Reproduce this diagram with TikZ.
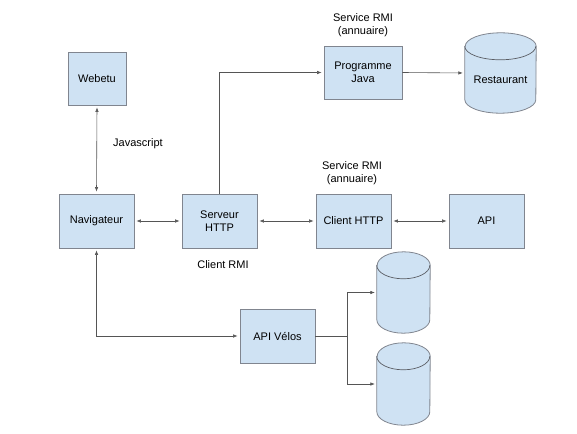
\documentclass[tikz,border=0pt]{standalone}
\usepackage{fontspec}
\setmainfont{Liberation Sans}
\usetikzlibrary{arrows.meta}
\definecolor{boxfill}{HTML}{CFE2F3}
\definecolor{boxline}{HTML}{80858F}
\definecolor{wire}{HTML}{555555}
\newcommand\dbcyl[2]{%
  \path[draw=boxline, fill=boxfill, line width=0.8pt]
    ([yshift=-13.5pt]#1.north west) -- ([yshift=13.5pt]#1.south west)
    arc[start angle=180, end angle=360, x radius=#2, y radius=13.5pt]
    -- ([yshift=-13.5pt]#1.north east)
    arc[start angle=0, end angle=180, x radius=#2, y radius=13.5pt] -- cycle;
  \draw[boxline!70!black, line width=0.7pt] ([yshift=-13.5pt]#1.north west)
    arc[start angle=180, end angle=360, x radius=#2, y radius=13.5pt];
}
\tikzset{
  box/.style={draw=boxline, fill=boxfill, line width=0.8pt, minimum width=75pt,
    minimum height=54pt, inner sep=0pt, align=center, font=\fontsize{11}{13.5}\selectfont},
  cylnode/.style={draw=none, inner sep=0pt, align=center, font=\fontsize{11}{13.5}\selectfont},
  lbl/.style={inner sep=0pt, align=center, font=\fontsize{11}{13.5}\selectfont},
  wirestyle/.style={draw=wire, line width=0.6pt, shorten >=2pt,
    >={Latex[length=4.5pt,width=3.5pt]}},
  wire2/.style={wirestyle, shorten <=2pt},
}
\begin{document}
\begin{tikzpicture}[x=1pt, y=-1pt]
\useasboundingbox (0,0) rectangle (577,433);
% cylinders (invisible named nodes, then drawn shapes)
\node[cylnode, minimum width=71pt, minimum height=80pt] (rest) at (500.5,73) {};
\node[cylnode, minimum width=53pt, minimum height=81pt] (db1) at (403.5,292.5) {};
\node[cylnode, minimum width=53pt, minimum height=82pt] (db2) at (403.5,384) {};
\dbcyl{rest}{35.5pt}
\dbcyl{db1}{26.5pt}
\dbcyl{db2}{26.5pt}
\node[lbl] (resttxt) at (500.5,80) {Restaurant};
% boxes
\node[box, minimum width=58pt, minimum height=53pt] (web) at (97,78.5) {Webetu};
\node[box] (nav) at (96.5,221) {Navigateur};
\node[box] (srv) at (219.5,221) {Serveur\\HTTP};
\node[box] (cli) at (353.5,221) {Client HTTP};
\node[box] (api) at (486.5,221) {API};
\node[box, minimum width=78pt, minimum height=53pt] (pj) at (363,72.5) {Programme\\Java};
\node[box] (vel) at (277.5,336) {API Vélos};
% labels
\node[lbl, anchor=west] (js) at (113,144) {Javascript};
\node[lbl] (rmi1) at (363,25) {Service RMI\\(annuaire)};
\node[lbl] (rmi2) at (352,173) {Service RMI\\(annuaire)};
\node[lbl] (crmi) at (223,265) {Client RMI};
% connectors
\draw[wire2, <->] (web.south) -- (nav.north);
\draw[wire2, <->] (nav.east) -- (srv.west);
\draw[wire2, <->] (srv.east) -- (cli.west);
\draw[wire2, <->] (cli.east) -- (api.west);
\draw[wirestyle, ->] (srv.north) |- (pj.west);
\draw[wirestyle, ->] (pj.east) -- (rest.west);
\draw[wire2, <->] (nav.south) |- (vel.west);
\coordinate (split) at (347,336);
\draw[wire] (vel.east) -- (split);
\draw[wirestyle, ->] (split) |- (db1.west);
\draw[wirestyle, ->] (split) |- (db2.west);
\end{tikzpicture}
\end{document}
